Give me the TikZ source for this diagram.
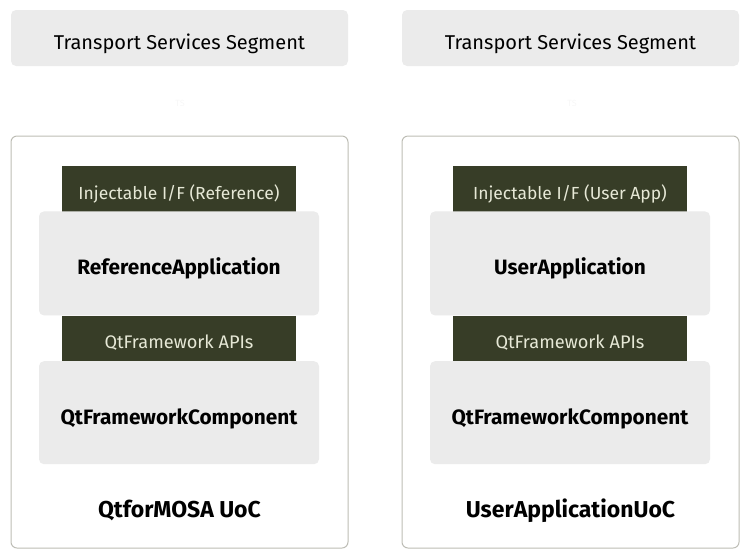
\documentclass[tikz,border=0pt]{standalone}
\usepackage{fontspec}
\setmainfont{Fira Sans}
\usepackage{tikz}
\usetikzlibrary{positioning}
\definecolor{panelgray}{HTML}{EBEBEB}
\definecolor{olivedark}{HTML}{373D27}
\definecolor{olivetext}{HTML}{E6E8D6}
\definecolor{framegray}{HTML}{BDBDB5}
\tikzset{
  segment/.style={
    rectangle, rounded corners=5pt, minimum width=337pt, minimum height=56pt,
    inner sep=0pt, text centered, draw=none, fill=panelgray,
    text height=22pt, text depth=0pt,
    font=\fontsize{20}{24}\selectfont
  },
  uoc/.style={
    rectangle, rounded corners=6pt, minimum width=337pt, minimum height=412pt,
    draw=framegray, line width=1pt, fill=white
  },
  iface/.style={
    rectangle, minimum width=234pt, minimum height=46pt, inner sep=0pt,
    text centered, fill=olivedark, text=olivetext,
    text height=20pt, text depth=0pt,
    font=\fontsize{17.5}{21}\selectfont
  },
  component/.style={
    rectangle, rounded corners=5pt, minimum width=280pt, minimum height=104pt,
    inner sep=0pt, text centered, fill=panelgray,
    text height=22pt, text depth=0pt,
    font=\fontsize{20.8}{24}\bfseries\selectfont
  },
  uoclabel/.style={
    draw=none, inner sep=0pt, text height=17pt, text depth=0pt,
    font=\fontsize{23}{27}\bfseries\selectfont
  },
  tslabel/.style={
    draw=none, text=black!3, font=\fontsize{9}{10}\selectfont
  }
}

\begin{document}
\begin{tikzpicture}[x=1pt, y=-1pt]

\useasboundingbox (0,0) rectangle (749,558);

% left column
\node[segment] (tss_left) at (179.5,38) {Transport Services Segment};
\node[tslabel] (ts_left) at (180,103) {TS};
\node[uoc] (uoc_left) at (179.5,342) {};

\node[iface] (inj_left) at (179,189) {Injectable I/F (Reference)};
\node[component, below=-1pt of inj_left] (app_left) {ReferenceApplication};
\node[iface, minimum height=45pt, text height=21pt, font=\fontsize{18.2}{21}\selectfont, below=0pt of app_left] (api_left) {QtFramework APIs};
\node[component, minimum height=103pt, text height=23pt, below=0pt of api_left] (qtf_left) {QtFrameworkComponent};

\node[uoclabel] (name_left) at (179.5,508.5) {QtforMOSA UoC};

% right column
\node[segment] (tss_right) at (570.5,38) {Transport Services Segment};
\node[tslabel] (ts_right) at (572,103) {TS};
\node[uoc] (uoc_right) at (570.5,342) {};

\node[iface] (inj_right) at (570,189) {Injectable I/F (User App)};
\node[component, below=-1pt of inj_right] (app_right) {UserApplication};
\node[iface, minimum height=45pt, text height=21pt, font=\fontsize{18.2}{21}\selectfont, below=0pt of app_right] (api_right) {QtFramework APIs};
\node[component, minimum height=103pt, text height=23pt, below=0pt of api_right] (qtf_right) {QtFrameworkComponent};

\node[uoclabel] (name_right) at (570.5,508.5) {UserApplicationUoC};

\end{tikzpicture}
\end{document}
